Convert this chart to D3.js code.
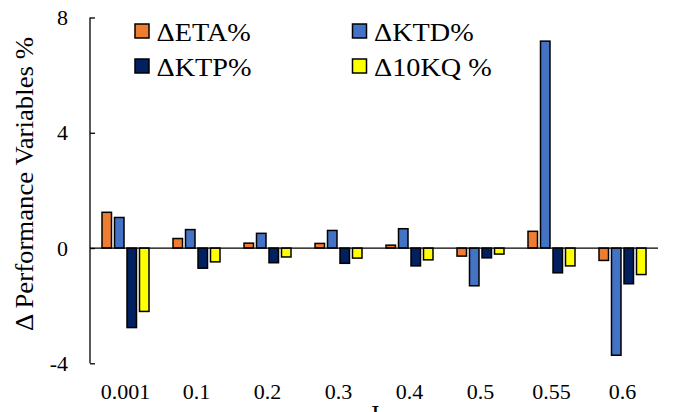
<!DOCTYPE html>
<html>
<head>
<meta charset="utf-8">
<script src="https://cdn.jsdelivr.net/npm/d3@7"></script>
<style>
  html, body { margin: 0; padding: 0; background: #fff; }
</style>
</head>
<body>
<svg id="chart" width="676" height="412"></svg>
<script>
// Categories (J values) and the change in each performance variable, %
const categories = ["0.001", "0.1", "0.2", "0.3", "0.4", "0.5", "0.55", "0.6"];
const seriesNames = ["ΔETA%", "ΔKTD%", "ΔKTP%", "Δ10KQ %"];
const dETA  = [1.24, 0.33, 0.17, 0.16, 0.10, -0.28, 0.58, -0.43];
const dKTD  = [1.06, 0.64, 0.51, 0.61, 0.67, -1.31, 7.18, -3.72];
const dKTP  = [-2.76, -0.70, -0.51, -0.53, -0.62, -0.34, -0.86, -1.24];
const d10KQ = [-2.20, -0.48, -0.31, -0.35, -0.41, -0.21, -0.62, -0.92];
const yTicks = [-4, 0, 4, 8];
const colors = ["#ED7D31", "#4472C4", "#002060", "#FFFF00"];

const seriesValues = [dETA, dKTD, dKTP, d10KQ];
const rows = categories.map((c, i) => ({
  cat: c,
  vals: seriesValues.map((s, k) => ({ key: seriesNames[k], k, v: s[i] }))
}));

const FONT = "Liberation Serif";
const svg = d3.select("#chart");
const plotLeft = 90, plotRight = 658, plotTop = 17.5, plotBottom = 363.3;

const x0 = d3.scaleBand().domain(categories).range([plotLeft, plotRight]).paddingInner(0).paddingOuter(0);
const groupW = 47;
const x1 = d3.scaleBand().domain(seriesNames)
  .range([(x0.bandwidth() - groupW) / 2, (x0.bandwidth() + groupW) / 2])
  .paddingInner(0.24).paddingOuter(0);
const y = d3.scaleLinear().domain([-4, 8]).range([plotBottom, plotTop]);

// Bars
const g = svg.append("g");
g.selectAll("g.grp").data(rows).join("g")
  .attr("class", "grp")
  .attr("transform", d => `translate(${x0(d.cat)},0)`)
  .selectAll("rect").data(d => d.vals).join("rect")
  .attr("x", d => x1(d.key))
  .attr("width", x1.bandwidth())
  .attr("y", d => y(Math.max(0, d.v)))
  .attr("height", d => Math.abs(y(d.v) - y(0)))
  .attr("fill", d => colors[d.k])
  .attr("stroke", "#000")
  .attr("stroke-width", 1.5);

// Zero line acting as the category axis
svg.append("line")
  .attr("x1", plotLeft).attr("x2", plotRight)
  .attr("y1", y(0)).attr("y2", y(0))
  .attr("stroke", "#000").attr("stroke-width", 1.3);

// Value axis with inward ticks
const yAxis = svg.append("g").attr("transform", `translate(${plotLeft},0)`)
  .call(d3.axisLeft(y).tickValues(yTicks).tickSize(-5).tickPadding(22).tickFormat(d => String(d)));
yAxis.attr("font-family", FONT);
yAxis.select(".domain").attr("stroke", "#000").attr("stroke-width", 1.3)
  .attr("d", `M-0,${y(-4)}V${y(8)}`);
yAxis.selectAll(".tick line").attr("stroke", "#000").attr("stroke-width", 1.3);
yAxis.selectAll(".tick text").attr("font-size", 22).attr("font-family", FONT).attr("fill", "#000");

// Category labels
svg.append("g").selectAll("text").data(categories).join("text")
  .attr("x", d => x0(d) + x0.bandwidth() / 2)
  .attr("y", 399)
  .attr("text-anchor", "middle")
  .attr("font-family", FONT)
  .attr("font-size", 22)
  .text(d => d);

// Axis titles
svg.append("text")
  .attr("x", 374).attr("y", 423)
  .attr("text-anchor", "middle").attr("font-size", 26)
  .attr("font-family", FONT)
  .text("J");
svg.append("text")
  .attr("transform", "translate(33,184) rotate(-90) scale(1.03,1)")
  .attr("text-anchor", "middle").attr("font-size", 26)
  .attr("font-family", FONT)
  .text("Δ Performance Variables %");

// Legend, two columns
const legendPos = [[135, 24], [352.5, 24], [135, 59], [352.5, 59]];
const order = [0, 1, 2, 3];
const lg = svg.append("g").selectAll("g").data(order).join("g")
  .attr("transform", d => `translate(${legendPos[d][0]},${legendPos[d][1]})`);
lg.append("rect").attr("width", 14).attr("height", 14)
  .attr("fill", d => colors[d]).attr("stroke", "#000").attr("stroke-width", 1.5);
lg.append("text")
  .attr("transform", "translate(21.5,17) scale(1.13,1)")
  .attr("font-size", 25)
  .attr("font-family", FONT)
  .text(d => seriesNames[d]);
</script>
</body>
</html>
